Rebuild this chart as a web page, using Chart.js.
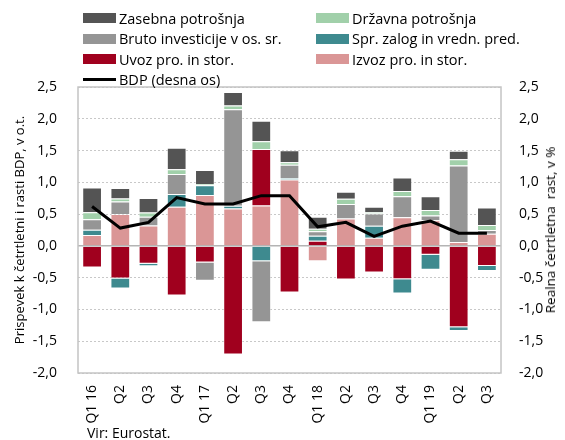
<!DOCTYPE html>
<html>
<head>
<meta charset="utf-8">
<script src="https://cdn.jsdelivr.net/npm/chart.js@4/dist/chart.umd.min.js"></script>
<style>
  body { margin: 0; background: #fff; font-family: 'Open Sans', sans-serif; color: #000; }
  #wrap { position: relative; width: 565px; height: 440px; }
  canvas { position: absolute; left: 0; top: 0; }
  #legend { position: absolute; left: 83px; top: 8px; display: grid;
    grid-template-columns: 233px 220px; grid-auto-rows: 20.5px; font-size: 14.5px; }
  #legend .item { display: flex; align-items: center; white-space: nowrap; }
  #legend .sw { width: 33px; height: 10px; margin-right: 3px; flex: none; }
  #legend .ln { width: 33px; height: 3px; margin-right: 3px; background: #000; flex: none; }
  #rtitle { position: absolute; left: 550px; top: 230px; transform: translate(-50%, -50%) rotate(-90deg);
    font-size: 13.5px; white-space: pre; }
  #source { position: absolute; left: 87px; top: 423px; font-size: 14px; }
</style>
</head>
<body>
<div id="wrap">
  <canvas id="chart" width="565" height="440"></canvas>
  <div id="legend"></div>
  <div id="rtitle">Realna četrtletna  rast, v %</div>
  <div id="source">Vir: Eurostat.</div>
</div>
<script>
// ===== DATA =====
const quarters = ['Q1 16', 'Q2', 'Q3', 'Q4', 'Q1 17', 'Q2', 'Q3', 'Q4', 'Q1 18', 'Q2', 'Q3', 'Q4', 'Q1 19', 'Q2', 'Q3'];

const zasebna = [0.39, 0.165, 0.23, 0.34, 0.22, 0.21, 0.325, 0.19, 0.19, 0.11, 0.085, 0.21, 0.215, 0.13, 0.275];
const drzavna = [0.11, 0.045, 0.065, 0.075, 0.02, 0.06, 0.12, 0.04, 0.04, 0.08, 0.02, 0.085, 0.085, 0.10, 0.08];
const bruto   = [0.165, 0.20, 0.14, 0.315, -0.29, 1.52, -0.96, 0.21, 0.07, 0.23, 0.195, 0.33, 0.075, 1.205, 0.06];
const zaloge  = [0.085, -0.155, -0.04, 0.20, 0.155, 0.04, -0.24, 0.02, 0.08, 0, 0.185, -0.225, -0.235, -0.06, -0.08];
const uvoz    = [-0.34, -0.515, -0.28, -0.78, -0.26, -1.71, 0.89, -0.735, 0.08, -0.53, -0.42, -0.525, -0.14, -1.28, -0.315];
const izvoz   = [0.17, 0.50, 0.32, 0.615, 0.80, 0.59, 0.635, 1.045, -0.24, 0.43, 0.13, 0.45, 0.405, 0.06, 0.19];
const bdp     = [0.62, 0.28, 0.37, 0.76, 0.66, 0.66, 0.79, 0.79, 0.30, 0.37, 0.15, 0.31, 0.39, 0.20, 0.20];

const yTicks = [-2.0, -1.5, -1.0, -0.5, 0, 0.5, 1.0, 1.5, 2.0, 2.5];

// stacking order (bottom up) = dataset order
const barSeries = [
  { label: 'Izvoz pro. in stor.', data: izvoz, color: '#da9696' },
  { label: 'Uvoz pro. in stor.', data: uvoz, color: '#a0001e' },
  { label: 'Spr. zalog in vredn. pred.', data: zaloge, color: '#3e8a8f' },
  { label: 'Bruto investicije v os. sr.', data: bruto, color: '#959595' },
  { label: 'Državna potrošnja', data: drzavna, color: '#a1d0aa' },
  { label: 'Zasebna potrošnja', data: zasebna, color: '#545454' },
];
const legendOrder = ['Zasebna potrošnja', 'Državna potrošnja', 'Bruto investicije v os. sr.',
  'Spr. zalog in vredn. pred.', 'Uvoz pro. in stor.', 'Izvoz pro. in stor.', 'BDP (desna os)'];

const fmt = v => v.toFixed(1).replace('.', ',');

// html legend
const legendEl = document.getElementById('legend');
legendEl.innerHTML = legendOrder.map(name => {
  const s = barSeries.find(b => b.label === name);
  const mark = s ? `<span class="sw" style="background:${s.color}"></span>` : '<span class="ln"></span>';
  return `<div class="item">${mark}<span>${name}</span></div>`;
}).join('');

// frame around the plot area
const frame = {
  id: 'frame',
  afterDraw(chart) {
    const { ctx, chartArea: a } = chart;
    ctx.save();
    ctx.strokeStyle = '#c4c4c4';
    ctx.lineWidth = 1.5;
    ctx.strokeRect(a.left, a.top, a.right - a.left, a.bottom - a.top);
    ctx.restore();
  }
};

const tickFont = { family: 'Open Sans', size: 14 };
const yScale = (pos, pad) => ({
  position: pos,
  stacked: pos === 'left',
  min: -2, max: 2.5,
  afterBuildTicks: s => { s.ticks = yTicks.map(v => ({ value: v })); },
  ticks: { color: '#000', font: tickFont, padding: pad, callback: v => fmt(v) },
  border: { display: false, dash: c => (c.tick && c.tick.value === 0 ? [] : [2, 2]) },
});

Chart.defaults.font.family = 'Open Sans';

new Chart(document.getElementById('chart'), {
  type: 'bar',
  data: {
    labels: quarters,
    datasets: [
      {
        type: 'line', label: 'BDP (desna os)', data: bdp, yAxisID: 'y1',
        borderColor: '#000', borderWidth: 3, pointRadius: 0, tension: 0, order: 0,
      },
      ...barSeries.map(s => ({
        label: s.label, data: s.data, backgroundColor: s.color, yAxisID: 'y',
        borderColor: 'rgba(255,255,255,0.45)', borderWidth: 1, order: 1,
        barPercentage: 0.7, categoryPercentage: 1,
      })),
    ]
  },
  options: {
    responsive: false,
    animation: false,
    layout: { padding: { top: 87, left: 0, right: 0, bottom: 0 } },
    plugins: { legend: { display: false }, tooltip: { enabled: false } },
    scales: {
      x: {
        stacked: true,
        grid: { display: false },
        border: { display: false },
        ticks: { color: '#000', font: tickFont, minRotation: 90, maxRotation: 90, autoSkip: false, padding: 4 },
        afterFit: s => { s.height = 67; },
      },
      y: {
        ...yScale('left', 21),
        grid: {
          drawTicks: false,
          color: c => (c.tick.value === 0 ? '#b4b4b4' : '#c8c8c8'),
          lineWidth: c => (c.tick.value === 0 ? 1.5 : 1),
        },
        title: { display: true, text: 'Prispevek k četrtletni i rasti BDP, v o.t.', color: '#000',
          font: { family: 'Open Sans', size: 13 }, padding: { top: 12, bottom: 0 } },
        afterFit: s => { s.width = 78; },
      },
      y1: {
        ...yScale('right', 18),
        grid: { display: false, drawTicks: false },
        afterFit: s => { s.width = 64; },
      },
    },
  },
  plugins: [frame],
});
</script>
</body>
</html>
